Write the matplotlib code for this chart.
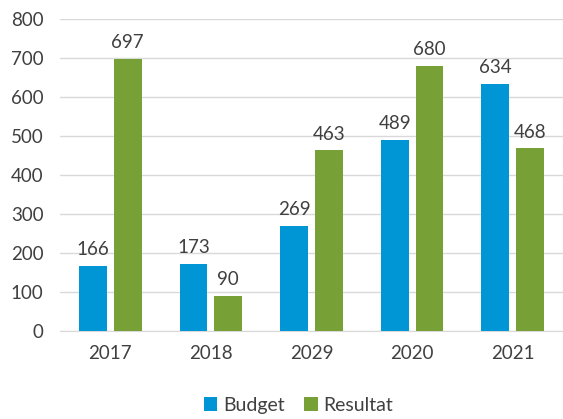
import matplotlib
matplotlib.use("Agg")
import matplotlib.pyplot as plt
import numpy as np

categories = ["2017", "2018", "2029", "2020", "2021"]
budget = [166, 173, 269, 489, 634]
resultat = [697, 90, 463, 680, 468]
series_names = ["Budget", "Resultat"]

plt.rcParams['font.family'] = ['Lato', 'DejaVu Sans']
txt = "#404040"

fig = plt.figure(figsize=(5.63, 4.19), dpi=100)
ax = fig.add_axes([0.1066, 0.21, 0.8934, 0.7447])

x = np.arange(len(categories))
w = 0.276
off = (w + 0.07) / 2
b1 = ax.bar(x - off, budget, w, color="#0096D6", label=series_names[0], zorder=3)
b2 = ax.bar(x + off, resultat, w, color="#77A136", label=series_names[1], zorder=3)

for bars, vals in ((b1, budget), (b2, resultat)):
    for r, v in zip(bars, vals):
        ax.text(r.get_x() + r.get_width() / 2, v + 20, str(v), ha="center", va="bottom",
                fontsize=13.5, color=txt)

ax.set_xlim(-0.5, len(categories) - 0.5)
ax.set_ylim(0, 800)
ax.set_yticks(range(0, 801, 100))
ax.set_xticks(x)
ax.set_xticklabels(categories)
ax.yaxis.grid(True, color="#D9D9D9", linewidth=1, zorder=0)
for s in ["top", "right", "left"]:
    ax.spines[s].set_visible(False)
ax.spines["bottom"].set_color("#D9D9D9")
ax.tick_params(axis="both", length=0, labelsize=13.5, labelcolor=txt)
ax.tick_params(axis="x", pad=10)
ax.tick_params(axis="y", pad=12)

fig.legend(handles=[b1, b2], loc="lower center", bbox_to_anchor=(0.53, -0.03), ncol=2,
           frameon=False, fontsize=14, handlelength=0.7, handleheight=0.7,
           handletextpad=0.3, columnspacing=1.0, labelcolor=txt)

fig.savefig("out.png", dpi=100)
